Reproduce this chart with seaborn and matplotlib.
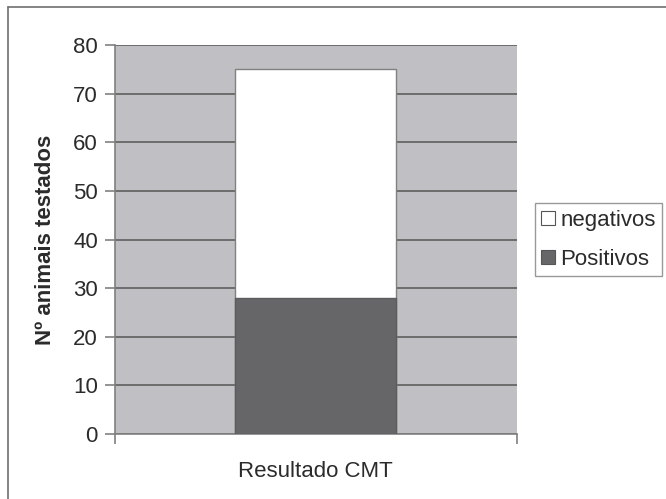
import matplotlib
matplotlib.use("Agg")
import matplotlib.pyplot as plt
import matplotlib.patches as mpatches
import matplotlib.lines as mlines
import seaborn as sns
import pandas as pd

categories = ["Resultado CMT"]
positivos = [28]
negativos = [47]
y_ticks = [0, 10, 20, 30, 40, 50, 60, 70, 80]

sns.set_style("white")
plt.rcParams["font.family"] = ["Liberation Sans", "DejaVu Sans"]

totals = [p + n for p, n in zip(positivos, negativos)]
df = pd.DataFrame({"categoria": categories, "total": totals, "positivos": positivos})

fig = plt.figure(figsize=(6.66, 4.99), dpi=100)
ax = fig.add_axes([0.172, 0.130, 0.604, 0.780])
ax.set_facecolor("#c0c0c4")

# stacked bar: total (white negativos part) behind, positivos in front
sns.barplot(data=df, x="categoria", y="total", color="white", width=0.4,
            edgecolor="#808080", linewidth=1.0, saturation=1, ax=ax, zorder=3)
sns.barplot(data=df, x="categoria", y="positivos", color="#666668", width=0.4,
            edgecolor="#5c5c5e", linewidth=1.0, saturation=1, ax=ax, zorder=4)

ax.set_xlim(-0.5, 0.5)
ax.set_ylim(0, 80)
ax.set_yticks(y_ticks)
ax.yaxis.grid(True, color="#666666", linewidth=1.3, zorder=1)
ax.set_axisbelow(True)

for side in ["top", "right"]:
    ax.spines[side].set_visible(False)
for side in ["left", "bottom"]:
    ax.spines[side].set_color("#808080")
    ax.spines[side].set_linewidth(1.2)

ax.tick_params(axis="y", length=7, width=1.2, color="#808080", labelsize=16,
               labelcolor="#2b2b2b", pad=5, left=True)
ax.tick_params(axis="x", which="major", length=0, labelsize=16, labelcolor="#2b2b2b", pad=19)
ax.set_xticks([-0.5, 0.5], minor=True)
ax.tick_params(axis="x", which="minor", length=7, width=1.2, color="#808080", bottom=True)

ax.set_xlabel("")
ax.set_ylabel("Nº animais testados", fontsize=16, fontweight="bold", color="#2b2b2b", labelpad=12)

handles = [mpatches.Patch(facecolor="white", edgecolor="#555555", linewidth=0.8, label="negativos"),
           mpatches.Patch(facecolor="#666668", edgecolor="#555555", linewidth=0.8, label="Positivos")]
leg = fig.legend(handles=handles, loc="upper left", bbox_to_anchor=(0.803, 0.593),
                 fontsize=16, frameon=True, fancybox=False, handlelength=0.6, handleheight=0.6,
                 handletextpad=0.25, borderpad=0.3, labelspacing=0.8, borderaxespad=0)
leg.get_frame().set_edgecolor("#808080")
leg.get_frame().set_linewidth(1.0)
for t in leg.get_texts():
    t.set_color("#2b2b2b")

# chart area frame lines (top and left edges)
fig.add_artist(mlines.Line2D([0.012, 1.0], [0.986, 0.986], transform=fig.transFigure,
                             color="#707070", linewidth=1.2))
fig.add_artist(mlines.Line2D([0.012, 0.012], [0.0, 0.986], transform=fig.transFigure,
                             color="#707070", linewidth=1.2))

fig.savefig("out.png", dpi=100, facecolor="white")
